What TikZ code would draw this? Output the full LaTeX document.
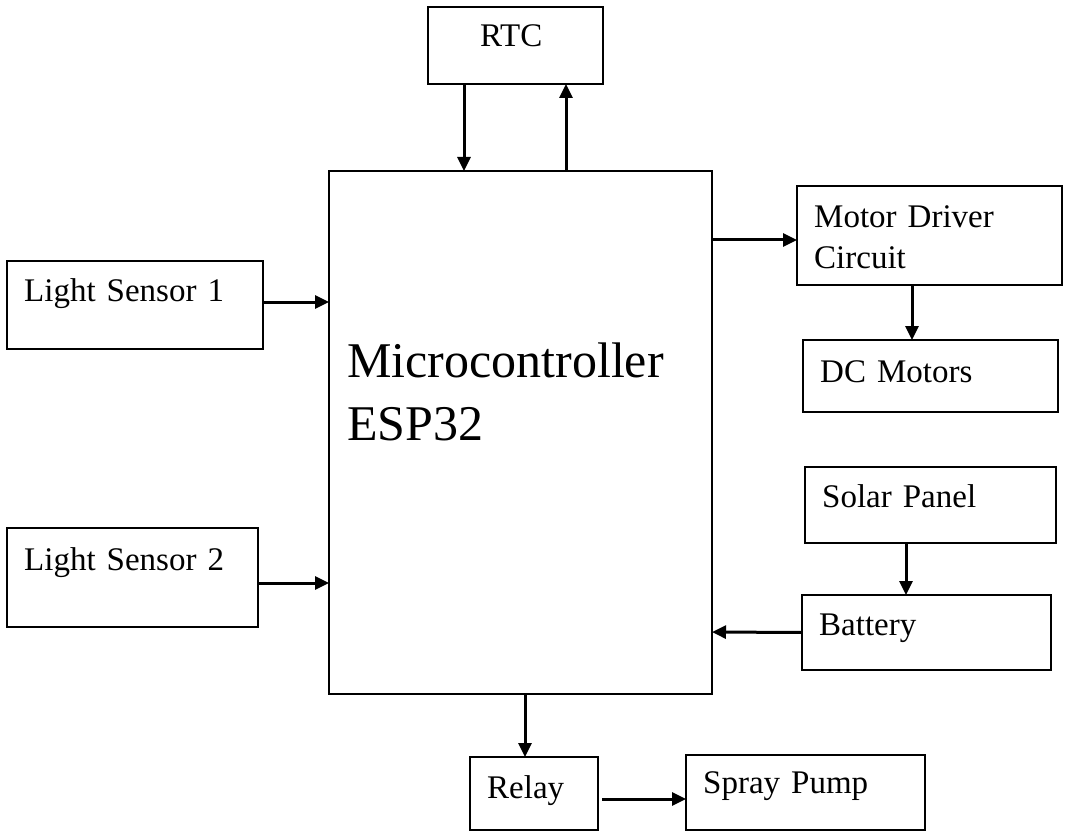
\documentclass[tikz,border=0pt]{standalone}
\usepackage{fontspec}
\setmainfont{Liberation Serif}
\usetikzlibrary{arrows.meta}

\tikzset{
  block/.style={draw, line width=1.5pt, inner sep=0pt, outer sep=0pt, anchor=north west},
  txt/.style={font=\fontsize{33}{41}\selectfont, inner sep=0pt, anchor=base west, text width=240pt, align=left},
  label distance=0pt
}

\begin{document}
\begin{tikzpicture}[x=1pt,y=-1pt,>={Triangle[length=14pt,width=13pt]}]
      \useasboundingbox (0,0) rectangle (1072,832);

      % blocks
      \node[block, minimum width=175pt, minimum height=77pt,
        label={[txt, xshift=52pt, yshift=-40pt]north west:RTC}] (rtc) at (428,7) {};
      \node[block, minimum width=383pt, minimum height=523pt,
        label={[txt, font=\fontsize{50}{63}\selectfont, text width=360pt, xshift=18pt, yshift=-206pt]north west:Microcontroller\\ESP32}] (mcu) at (329,171) {};
      \node[block, minimum width=256pt, minimum height=88pt,
        label={[txt, xshift=17pt, yshift=-40pt]north west:Light Sensor 1}] (ls1) at (7,261) {};
      \node[block, minimum width=251pt, minimum height=99pt,
        label={[txt, xshift=17pt, yshift=-42pt]north west:Light Sensor 2}] (ls2) at (7,528) {};
      \node[block, minimum width=265pt, minimum height=99pt,
        label={[txt, xshift=17pt, yshift=-41pt]north west:Motor Driver\\Circuit}] (mdc) at (797,186) {};
      \node[block, minimum width=255pt, minimum height=72pt,
        label={[txt, xshift=17pt, yshift=-42pt]north west:DC Motors}] (dcm) at (803,340) {};
      \node[block, minimum width=251pt, minimum height=76pt,
        label={[txt, xshift=17pt, yshift=-40pt]north west:Solar Panel}] (sol) at (805,467) {};
      \node[block, minimum width=249pt, minimum height=75pt,
        label={[txt, xshift=17pt, yshift=-40pt]north west:Battery}] (bat) at (802,595) {};
      \node[block, minimum width=128pt, minimum height=73pt,
        label={[txt, xshift=17pt, yshift=-41pt]north west:Relay}] (rel) at (470,757) {};
      \node[block, minimum width=239pt, minimum height=75pt,
        label={[txt, xshift=17pt, yshift=-38pt]north west:Spray Pump}] (pump) at (686,755) {};

      % connections
      \path[->, every edge/.append style={line width=3pt}]
      ([xshift=-51.5pt]rtc.south) edge ([xshift=-56.5pt]mcu.north)
      ([xshift=45.5pt]mcu.north) edge ([xshift=50.5pt]rtc.south)

      ([yshift=3pt]ls1.east) edge ([yshift=130.5pt]mcu.west)
      ([yshift=-5.5pt]ls2.east) edge ([yshift=-150.5pt]mcu.west)

      ([yshift=192.5pt]mcu.east) edge ([yshift=-4.5pt]mdc.west)
      ([xshift=-17.5pt]mdc.south) edge ([xshift=-18.5pt]dcm.north)

      ([xshift=-24.5pt]sol.south) edge ([xshift=-20.5pt]bat.north)
      (bat.west) edge ([yshift=-199.5pt]mcu.east)

      ([xshift=4.5pt]mcu.south) edge ([xshift=-9pt]rel.north)
      ([xshift=4pt,yshift=-5.5pt]rel.east) edge ([yshift=-6.5pt]pump.west);

\end{tikzpicture}
\end{document}
